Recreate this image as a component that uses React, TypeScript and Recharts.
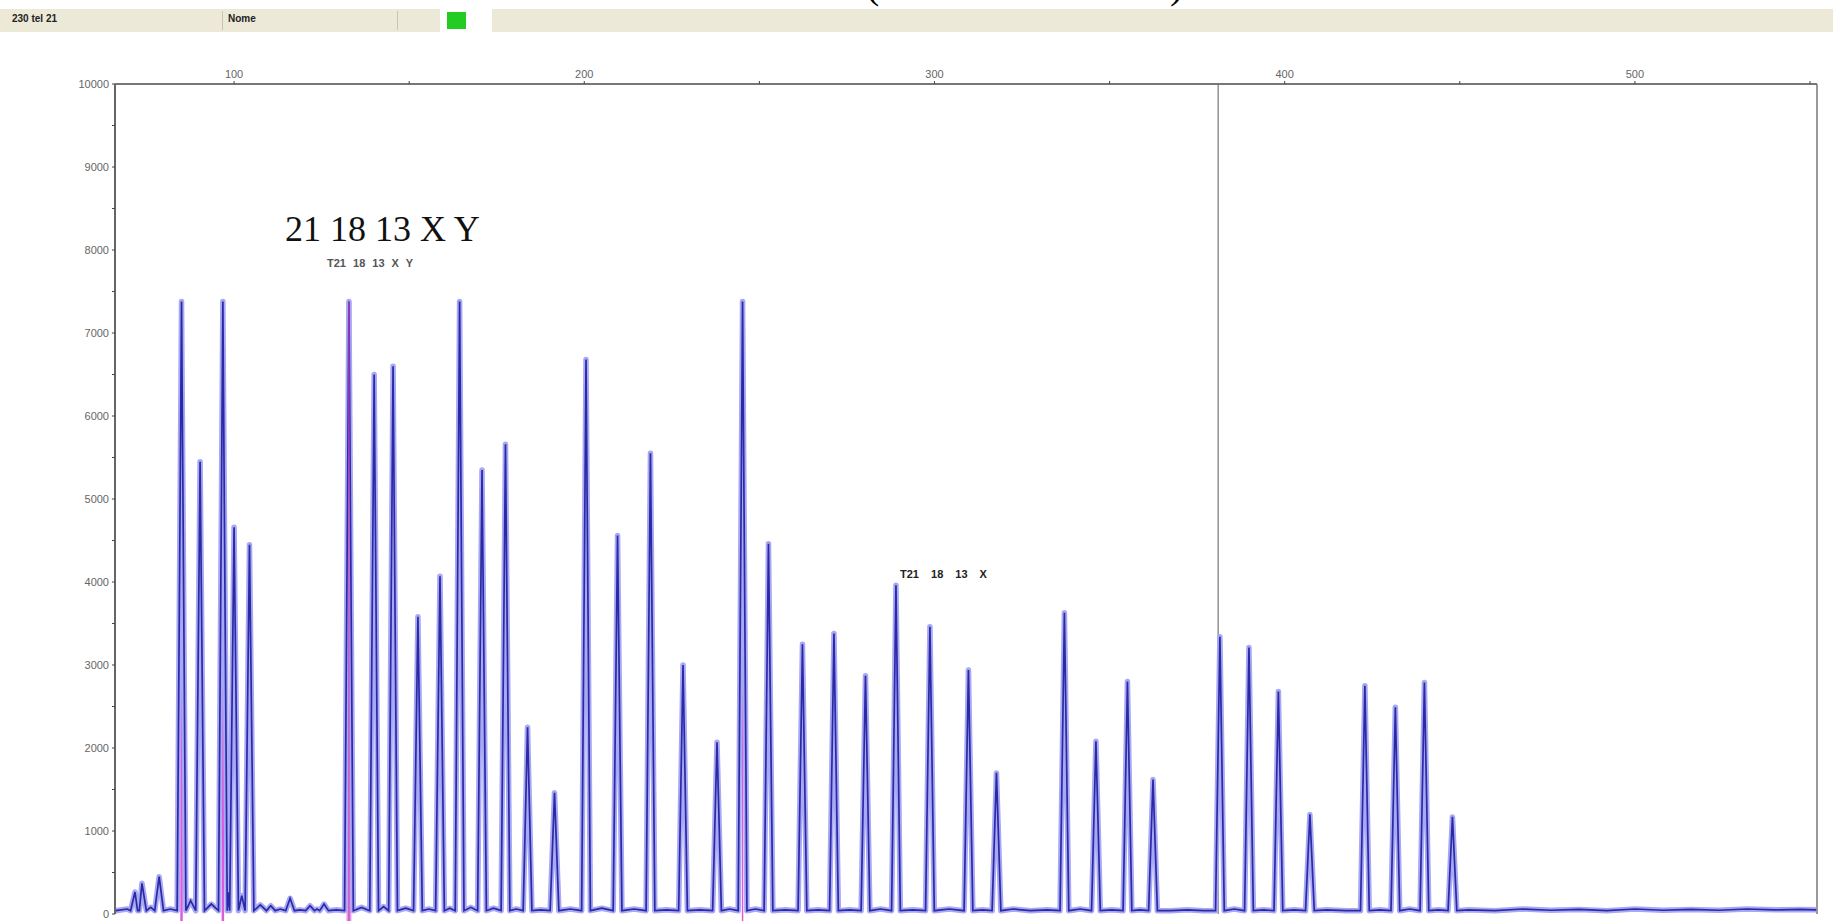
import React from 'react';
import { ComposedChart, Line, XAxis, YAxis, ReferenceLine } from 'recharts';

// Peak apex positions (bp) and heights (RFU)
const peakBp = [71.7, 73.7, 78.6, 85.0, 90.3, 96.8, 100.0, 104.4, 110.5, 116.0, 121.7, 125.7, 132.8, 140.0, 145.4, 152.5, 158.8, 164.4, 170.8, 177.5, 183.8, 191.5, 200.5, 209.5, 218.9, 228.2, 237.9, 245.2, 252.6, 262.3, 271.3, 280.3, 289.0, 298.7, 309.7, 317.7, 337.1, 346.1, 355.1, 362.4, 381.5, 389.8, 398.2, 407.2, 422.9, 431.6, 439.9, 447.9];
const peakRfu = [265, 370, 450, 7380, 5450, 7380, 4660, 4450, 100, 190, 100, 120, 7380, 6500, 6600, 3580, 4070, 7380, 5350, 5660, 2250, 1460, 6680, 4560, 5550, 3000, 2070, 7380, 4460, 3250, 3380, 2870, 3960, 3460, 2940, 1700, 3630, 2080, 2800, 1620, 3340, 3210, 2680, 1200, 2750, 2490, 2790, 1170];

// Baseline readings between peaks
const baselineBp = [66.2, 69.5, 76.2, 81.8, 87.6, 93.5, 98.4, 102.2, 107.5, 113.2, 118.8, 123.7, 129.2, 136.4, 142.7, 149.0, 155.6, 161.6, 167.6, 174.1, 180.6, 187.6, 196.0, 205.0, 214.2, 223.5, 233.0, 241.5, 248.9, 257.4, 266.8, 275.8, 284.6, 293.8, 304.2, 313.7, 322.5, 327.4, 332.2, 341.6, 350.6, 358.7, 367.5, 372.2, 376.8, 385.6, 394.0, 402.7, 412.0, 417.5, 427.2, 435.7, 443.9, 452.5, 460, 468, 476, 484, 492, 500, 508, 516, 524, 532, 540, 547, 551.8];
const baselineRfu = [40, 60, 80, 60, 160, 120, 260, 220, 110, 60, 50, 60, 50, 80, 90, 70, 60, 70, 80, 70, 60, 50, 60, 70, 60, 50, 50, 60, 60, 50, 50, 50, 60, 50, 60, 50, 60, 40, 50, 60, 50, 50, 40, 50, 40, 60, 50, 50, 50, 40, 50, 60, 50, 50, 40, 60, 45, 55, 40, 60, 45, 55, 45, 60, 50, 55, 50];
const FOOT_RFU = 40;

// Size-standard marker lines (magenta) and the cursor
const markerBp = [85.0, 96.8, 132.8, 245.2];
const markerTop = [7380, 7380, 7380, 7380];
const cursorBp = 381;

// Axis ticks
const xTicks = [100, 150, 200, 250, 300, 350, 400, 450, 500, 550];
const yTicks = [0, 500, 1000, 1500, 2000, 2500, 3000, 3500, 4000, 4500, 5000, 5500, 6000, 6500, 7000, 7500, 8000, 8500, 9000, 9500, 10000];

const HALF = 1.25;
const markerWidths = [2.5, 2.5, 5, 1.5];

const traceData = [
  ...peakBp.flatMap((bp, i) => [
    { bp: bp - HALF, rfu: FOOT_RFU },
    { bp, rfu: peakRfu[i] },
    { bp: bp + HALF, rfu: FOOT_RFU },
  ]),
  ...baselineBp.map((bp, i) => ({ bp, rfu: baselineRfu[i] })),
].sort((a, b) => a.bp - b.bp);

const axisFont = { fontFamily: 'Liberation Sans, Arial, sans-serif', fontSize: 11, fill: '#666' };

export default function App() {
  return (
    <div style={{ position: 'absolute', left: 0, top: 0, width: 1833, height: 921, background: '#fff', overflow: 'hidden' }}>
      {/* header bar */}
      <div style={{ position: 'absolute', left: 0, top: 9, width: 1833, height: 23, background: '#ECE9D8', fontFamily: 'Liberation Sans, Arial, sans-serif', fontSize: 10, fontWeight: 'bold', color: '#222' }}>
        <span style={{ position: 'absolute', left: 12, top: 4 }}>230 tel 21</span>
        <div style={{ position: 'absolute', left: 222, top: 2, width: 1, height: 19, background: '#c8c4b0' }} />
        <span style={{ position: 'absolute', left: 228, top: 4 }}>Nome</span>
        <div style={{ position: 'absolute', left: 397, top: 2, width: 1, height: 19, background: '#c8c4b0' }} />
        <div style={{ position: 'absolute', left: 440, top: 0, width: 52, height: 23, background: '#fff' }} />
        <div style={{ position: 'absolute', left: 447, top: 3, width: 19, height: 17, background: '#22cc22' }} />
      </div>
      <ComposedChart width={1833} height={921} data={traceData} margin={{ top: 44, right: 16, bottom: 7, left: 0 }} style={{ position: 'absolute', left: 0, top: 0 }}>
        <XAxis
          dataKey="bp"
          type="number"
          orientation="top"
          domain={[66, 552]}
          ticks={xTicks}
          allowDataOverflow
          height={40}
          tickSize={3}
          tickMargin={3}
          tick={axisFont}
          tickFormatter={(v: number) => (v % 100 === 0 ? String(v) : '')}
          axisLine={{ stroke: '#777', strokeWidth: 2 }}
          tickLine={{ stroke: '#444' }}
        />
        <YAxis
          type="number"
          domain={[0, 10000]}
          ticks={yTicks}
          width={115}
          tickSize={3}
          tickMargin={3}
          interval={0}
          tick={axisFont}
          tickFormatter={(v: number) => (v % 1000 === 0 ? String(v) : '')}
          axisLine={{ stroke: '#666', strokeWidth: 2 }}
          tickLine={{ stroke: '#444' }}
        />
        <ReferenceLine x={552} stroke="#999" strokeWidth={2} />
        <ReferenceLine x={cursorBp} stroke="#777" strokeWidth={1.2} />
        {markerBp.map((bp, i) => (
          <ReferenceLine
            key={'m' + i}
            ifOverflow="visible"
            segment={[{ x: bp, y: -90 }, { x: bp, y: markerTop[i] }]}
            stroke={i === 2 ? '#e79be7' : '#dc5cdc'}
            strokeWidth={markerWidths[i]}
          />
        ))}
        <Line type="linear" dataKey="rfu" stroke="#a8a8f4" strokeWidth={5.5} strokeLinejoin="round" dot={false} isAnimationActive={false} />
        <Line type="linear" dataKey="rfu" stroke="#2a2aa6" strokeWidth={1.7} dot={false} isAnimationActive={false} />
        <ReferenceLine
          ifOverflow="visible"
          segment={[{ x: markerBp[2], y: -90 }, { x: markerBp[2], y: markerTop[2] }]}
          stroke="#c040c0"
          strokeWidth={1.2}
        />
      </ComposedChart>
      {/* annotations */}
      <svg width={1833} height={921} style={{ position: 'absolute', left: 0, top: 0, pointerEvents: 'none' }}>
        <text x={866} y={-2} fontSize={40} fontFamily="Liberation Serif, serif" fill="#000">(</text>
        <text x={1170} y={-2} fontSize={40} fontFamily="Liberation Serif, serif" fill="#000">)</text>
        <text x={285} y={241} fontSize={36} fontFamily="Liberation Serif, serif" fill="#111">21 18 13 X Y</text>
        <text x={327} y={267} fontSize={11} fontWeight="bold" fontFamily="Liberation Sans, Arial, sans-serif" fill="#555" wordSpacing={4}>T21 18 13 X Y</text>
        <text x={900} y={578} fontSize={11} fontWeight="bold" fontFamily="Liberation Sans, Arial, sans-serif" fill="#222" wordSpacing={9}>T21 18 13 X</text>
      </svg>
    </div>
  );
}
